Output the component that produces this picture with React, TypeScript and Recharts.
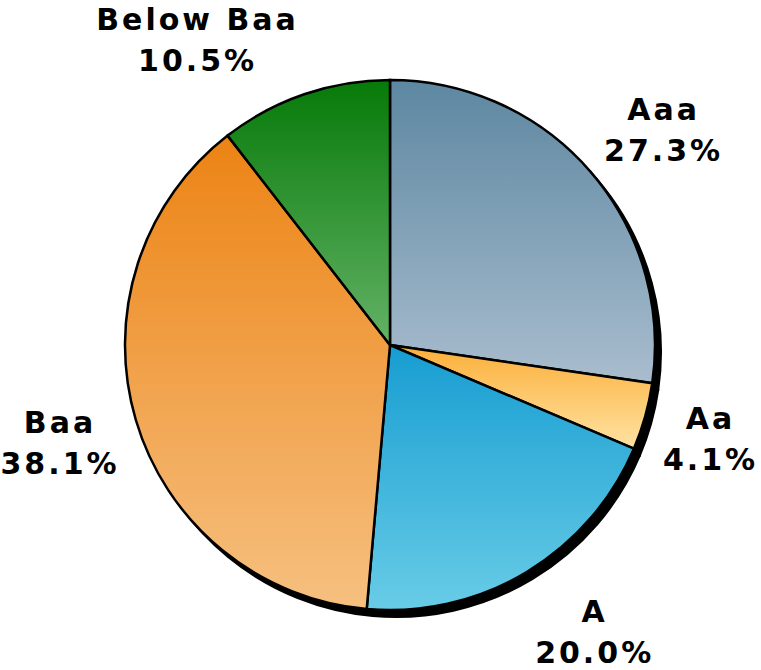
import { Cell, Pie, PieChart } from 'recharts';

const ratings = ['Aaa', 'Aa', 'A', 'Baa', 'Below Baa'];
const shares = [27.3, 4.1, 20.0, 38.1, 10.5];
const topColors = ['#5d87a1', '#fbae38', '#179dd1', '#ec8314', '#067a08'];
const bottomColors = ['#a9bdce', '#ffe3a3', '#68cce7', '#f6c080', '#64b266'];

const data = ratings.map((name, i) => ({ name, value: shares[i] }));

const RAD = Math.PI / 180;

// rough DejaVu Sans Bold advance widths (em)
function textWidth(s: string, size: number, spacing: number) {
  let w = 0;
  for (const ch of s) {
    if (/[0-9]/.test(ch)) w += 0.696;
    else if (ch === '.') w += 0.38;
    else if (ch === '%') w += 1.002;
    else if (ch === ' ') w += 0.348;
    else if (ch === 'l') w += 0.343;
    else if (ch === 'w') w += 0.924;
    else if (/[A-Z]/.test(ch)) w += 0.77;
    else w += 0.68;
  }
  return w * size + spacing * (s.length - 1);
}

const FONT = 30;
const SPACING = 3;
const LINE = 41;

function renderLabel(props: any) {
  const { cx, cy, midAngle, outerRadius, name, value } = props;
  const pct = `${Number(value).toFixed(1)}%`;
  const w = Math.max(textWidth(name, FONT, SPACING), textWidth(pct, FONT, SPACING));
  const h = LINE * 2 - 4;
  const r = outerRadius + 20;
  const cos = Math.cos(midAngle * RAD);
  const sin = Math.sin(midAngle * RAD);
  const px = cx + r * cos;
  const py = cy - r * sin;
  const clamp = (v: number) => Math.max(-1, Math.min(1, v));
  const bx = Math.max(w / 2 + 2, px + clamp(cos * 3.5) * (w / 2));
  const by = py - clamp(sin * 1.25) * (h / 2);
  return (
    <text
      x={bx}
      y={by}
      textAnchor="middle"
      fontFamily="DejaVu Sans"
      fontWeight="bold"
      fontSize={FONT}
      letterSpacing={SPACING}
      fill="#000"
    >
      <tspan x={bx} dy={-LINE / 2 + 14}>{name}</tspan>
      <tspan x={bx} dy={LINE}>{pct}</tspan>
    </text>
  );
}

export default function App() {
  return (
    <div style={{ position: 'absolute', left: 0, top: 0, background: '#fff' }}>
      <PieChart width={761} height={670} margin={{ top: 0, right: 0, bottom: 0, left: 0 }}>
        <defs>
          {ratings.map((r, i) => (
            <linearGradient key={r} id={`grad${i}`} x1="0" y1="0" x2="0" y2="1">
              <stop offset="0%" stopColor={topColors[i]} />
              <stop offset="100%" stopColor={bottomColors[i]} />
            </linearGradient>
          ))}
        </defs>
        {/* drop shadow */}
        <Pie
          data={data}
          dataKey="value"
          cx={396}
          cy={352}
          outerRadius={265}
          startAngle={90}
          endAngle={-270}
          fill="#000"
          stroke="#000"
          strokeWidth={2}
          isAnimationActive={false}
          label={false}
          labelLine={false}
        />
        <Pie
          data={data}
          dataKey="value"
          nameKey="name"
          cx={390}
          cy={345}
          outerRadius={265}
          startAngle={90}
          endAngle={-270}
          stroke="#000"
          strokeWidth={2.5}
          isAnimationActive={false}
          label={renderLabel}
          labelLine={false}
        >
          {data.map((d, i) => (
            <Cell key={d.name} fill={`url(#grad${i})`} />
          ))}
        </Pie>
      </PieChart>
    </div>
  );
}
